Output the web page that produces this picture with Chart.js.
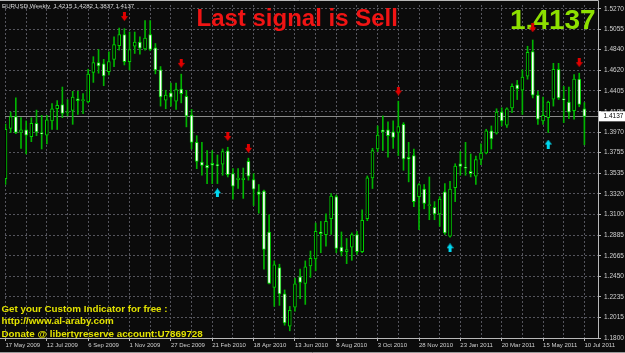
<!DOCTYPE html>
<html>
<head>
<meta charset="utf-8">
<script src="https://cdn.jsdelivr.net/npm/chart.js@4.4.0/dist/chart.umd.min.js"></script>
<style>
  html, body { margin: 0; padding: 0; background: #0b0b0b; }
  canvas { display: block; }
</style>
</head>
<body>
<canvas id="myChart" width="625" height="353"></canvas>
<script>
// EURUSD weekly, one bar per week starting 17 May 2009
const opens = [1.3480,1.4009,1.4134,1.3967,1.3995,1.3922,1.4064,1.3960,1.3939,1.4089,
  1.4217,1.4262,1.4172,1.4199,1.4321,1.4303,1.4290,1.4599,1.4703,1.4690,
  1.4609,1.4738,1.4883,1.4998,1.4714,1.4876,1.4920,1.4849,1.5000,1.4860,
  1.4627,1.4308,1.4384,1.4297,1.4425,1.4349,1.4151,1.3863,1.3654,1.3620,
  1.3642,1.3625,1.3633,1.3773,1.3533,1.3470,1.3470,1.3662,1.3470,1.3342,
  1.3349,1.2917,1.2334,1.2543,1.2265,1.1925,1.2126,1.2446,1.2376,1.2560,
  1.2633,1.2918,1.2890,1.3057,1.3290,1.2758,1.2709,1.2758,1.2891,1.2709,
  1.3057,1.3488,1.3793,1.3992,1.3995,1.3974,1.3967,1.4053,1.3705,1.3724,
  1.3290,1.3370,1.3195,1.3178,1.3109,1.3342,1.2873,1.3384,1.3637,1.3600,
  1.3557,1.3505,1.3682,1.3751,1.3985,1.3960,1.4182,1.4043,1.4227,1.4470,
  1.4412,1.4561,1.4821,1.4360,1.4089,1.4123,1.4318,1.4634,1.4320,1.4287,
  1.4196,1.4529,1.4215];
const highs = [1.4056,1.4182,1.4331,1.4123,1.4089,1.4123,1.4203,1.4147,1.4147,1.4272,
  1.4303,1.4446,1.4314,1.4401,1.4401,1.4376,1.4634,1.4766,1.4842,1.4738,
  1.4818,1.4975,1.5068,1.5061,1.5026,1.5026,1.4975,1.5147,1.5147,1.4905,
  1.4662,1.4412,1.4488,1.4488,1.4582,1.4412,1.4210,1.3933,1.3863,1.3776,
  1.3776,1.3730,1.3793,1.3811,1.3585,1.3585,1.3592,1.3696,1.3533,1.3418,
  1.3359,1.3099,1.2613,1.2578,1.2307,1.2133,1.2432,1.2526,1.2613,1.2717,
  1.3012,1.3029,1.3109,1.3324,1.3307,1.2918,1.2849,1.2908,1.2925,1.3151,
  1.3508,1.3800,1.4036,1.4141,1.4078,1.4089,1.4297,1.4071,1.3863,1.3793,
  1.3428,1.3418,1.3498,1.3238,1.3290,1.3428,1.3453,1.3637,1.3766,1.3863,
  1.3741,1.3717,1.3846,1.4001,1.4036,1.4217,1.4227,1.4227,1.4481,1.4516,
  1.4627,1.4876,1.4942,1.4401,1.4339,1.4297,1.4696,1.4696,1.4453,1.4446,
  1.4578,1.4592,1.4282];
const lows = [1.3418,1.3967,1.3955,1.3800,1.3741,1.3870,1.3933,1.3793,1.3846,1.3998,
  1.3998,1.4123,1.4141,1.4053,1.4157,1.4165,1.4279,1.4495,1.4592,1.4460,
  1.4574,1.4662,1.4835,1.4679,1.4627,1.4800,1.4793,1.4835,1.4828,1.4585,
  1.4245,1.4217,1.4245,1.4210,1.4279,1.4026,1.3793,1.3585,1.3516,1.3428,
  1.3428,1.3428,1.3516,1.3498,1.3265,1.3377,1.3272,1.3464,1.3196,1.3116,
  1.2526,1.2370,1.2133,1.2144,1.1935,1.1876,1.2084,1.2214,1.2154,1.2439,
  1.2508,1.2699,1.2769,1.2891,1.2699,1.2665,1.2584,1.2619,1.2682,1.2699,
  1.3037,1.3376,1.3766,1.3776,1.3706,1.3800,1.3724,1.3568,1.3446,1.3186,
  1.2943,1.3162,1.3047,1.3047,1.2977,1.2891,1.2863,1.3238,1.3516,1.3516,
  1.3498,1.3418,1.3627,1.3741,1.3793,1.3949,1.4037,1.4019,1.4175,1.4314,
  1.4157,1.4529,1.4331,1.4053,1.4053,1.3967,1.4245,1.4314,1.4071,1.4113,
  1.4106,1.4238,1.3837];
const closes = [1.4001,1.4134,1.3967,1.3995,1.3939,1.4064,1.3974,1.3952,1.4099,1.4217,
  1.4252,1.4168,1.4182,1.4339,1.4303,1.4311,1.4582,1.4703,1.4668,1.4564,
  1.4714,1.4894,1.4998,1.4714,1.4842,1.4920,1.4857,1.4961,1.4842,1.4627,
  1.4342,1.4360,1.4339,1.4419,1.4376,1.4141,1.3863,1.3662,1.3620,1.3592,
  1.3621,1.3618,1.3766,1.3522,1.3401,1.3485,1.3485,1.3505,1.3370,1.3314,
  1.2734,1.2376,1.2571,1.2265,1.1959,1.2092,1.2370,1.2387,1.2550,1.2641,
  1.2925,1.2901,1.3029,1.3297,1.2745,1.2709,1.2733,1.2891,1.2709,1.3040,
  1.3488,1.3776,1.3939,1.3975,1.3933,1.3915,1.4029,1.3689,1.3685,1.3238,
  1.3418,1.3220,1.3205,1.3109,1.3266,1.2908,1.3370,1.3613,1.3609,1.3590,
  1.3533,1.3682,1.3751,1.3985,1.3898,1.4182,1.4089,1.4217,1.4453,1.4425,
  1.4550,1.4811,1.4359,1.4106,1.4147,1.4287,1.4634,1.4332,1.4310,1.4182,
  1.4529,1.4262,1.4137];

// date labels, one every 8 bars
const dateLabels = ["17 May 2009", "12 Jul 2009", "6 Sep 2009", "1 Nov 2009", "27 Dec 2009",
  "21 Feb 2010", "18 Apr 2010", "13 Jun 2010", "8 Aug 2010", "3 Oct 2010",
  "28 Nov 2010", "23 Jan 2011", "20 Mar 2011", "15 May 2011", "10 Jul 2011"];
const priceTicks = [1.5270, 1.5055, 1.4840, 1.4620, 1.4405, 1.4185, 1.3970, 1.3755, 1.3535,
  1.3320, 1.3100, 1.2885, 1.2665, 1.2450, 1.2235, 1.2015, 1.1800];

// signal arrows (bar index, price level)
const sellBars = [23, 34, 43, 47, 76, 102, 111];
const sellLevels = [1.5189, 1.4696, 1.3925, 1.3800, 1.4404, 1.5071, 1.4703];
const buyBars = [41, 86, 105];
const buyLevels = [1.3331, 1.2751, 1.3845];

const last = closes.length - 1;
const font = '"Liberation Sans", Arial, sans-serif';

function makeArrow(color, down) {
  const c = document.createElement("canvas");
  c.width = 7;
  c.height = 9;
  const g = c.getContext("2d");
  g.fillStyle = color;
  if (!down) {
    g.translate(0, 9);
    g.scale(1, -1);
  }
  g.fillRect(2, 0, 3, 5);
  g.beginPath();
  g.moveTo(0, 4);
  g.lineTo(7, 4);
  g.lineTo(3.5, 9);
  g.closePath();
  g.fill();
  return c;
}

const gridWeeks = [];
for (let k = 0; k <= last; k += 4) gridWeeks.push(k);

const overlay = {
  id: "overlay",
  beforeDraw(chart) {
    const ctx = chart.ctx;
    ctx.save();
    ctx.fillStyle = "#0b0b0b";
    ctx.fillRect(0, 0, chart.width, chart.height);
    ctx.restore();
  },
  beforeDatasetsDraw(chart) {
    const ctx = chart.ctx;
    const a = chart.chartArea;
    const y = chart.scales.y;
    ctx.save();
    // bid line
    const by = Math.round(y.getPixelForValue(closes[last])) + 0.5;
    ctx.strokeStyle = "#8a8a8a";
    ctx.lineWidth = 1;
    ctx.beginPath();
    ctx.moveTo(a.left, by);
    ctx.lineTo(a.right, by);
    ctx.stroke();

    ctx.textBaseline = "alphabetic";
    ctx.textAlign = "left";
    ctx.fillStyle = "#d8d8d8";
    ctx.font = "6.2px " + font;
    ctx.fillText("EURUSD,Weekly  " + [opens[last], highs[last], lows[last], closes[last]]
      .map(v => v.toFixed(4)).join(" "), 2, 7.8);

    ctx.fillStyle = "#f01414";
    ctx.font = "bold 24px " + font;
    ctx.fillText("Last signal is Sell", 196.5, 25.5);

    ctx.fillStyle = "#8ee000";
    ctx.font = "bold 28px " + font;
    ctx.fillText(closes[last].toFixed(4), 510, 28.5);

    ctx.fillStyle = "#e2e200";
    ctx.font = "bold 9.8px " + font;
    ctx.fillText("Get your Custom Indicator for free :", 1.5, 311.5);
    ctx.fillText("http://www.al-araby.com", 1.5, 324);
    ctx.fillText("Donate @ libertyreserve account:U7869728", 1.5, 336.5);
    ctx.restore();
  },
  afterDraw(chart) {
    const ctx = chart.ctx;
    const a = chart.chartArea;
    const y = chart.scales.y;
    ctx.save();
    ctx.strokeStyle = "#b8b8b8";
    ctx.lineWidth = 1;
    ctx.beginPath();
    ctx.moveTo(0, 0.5);
    ctx.lineTo(a.right + 0.5, 0.5);
    ctx.lineTo(a.right + 0.5, a.bottom + 0.5);
    ctx.lineTo(0, a.bottom + 0.5);
    ctx.stroke();
    ctx.strokeStyle = "#9a9a9a";
    ctx.beginPath();
    ctx.moveTo(0, 352.5);
    ctx.lineTo(chart.width, 352.5);
    ctx.stroke();

    // current price box on the axis
    const py = y.getPixelForValue(closes[last]);
    ctx.fillStyle = "#ffffff";
    ctx.fillRect(a.right + 1, py - 5, 26, 10);
    ctx.fillStyle = "#000000";
    ctx.font = "6.5px " + font;
    ctx.textBaseline = "middle";
    ctx.fillText(closes[last].toFixed(4), a.right + 5.5, py);
    ctx.restore();
  }
};

new Chart(document.getElementById("myChart"), {
  type: "bar",
  data: {
    datasets: [
      {
        label: "wicks",
        data: lows.map((l, i) => ({ x: i, y: [l, highs[i]] })),
        backgroundColor: "#00b400",
        barThickness: 1,
        grouped: false,
        order: 3,
      },
      {
        label: "bodies",
        data: opens.map((o, i) => ({ x: i, y: [o, closes[i]] })),
        backgroundColor: opens.map((o, i) => (closes[i] < o ? "#ffffff" : "#000000")),
        borderColor: "#00d200",
        borderWidth: 1,
        borderSkipped: false,
        barThickness: 3,
        minBarLength: 1,
        grouped: false,
        order: 2,
      },
      {
        type: "scatter",
        label: "sell",
        data: sellBars.map((b, k) => ({ x: b, y: sellLevels[k] })),
        pointStyle: makeArrow("#e00000", true),
        pointRadius: 3,
        order: 1,
      },
      {
        type: "scatter",
        label: "buy",
        data: buyBars.map((b, k) => ({ x: b, y: buyLevels[k] })),
        pointStyle: makeArrow("#00d8f0", false),
        pointRadius: 3,
        order: 1,
      },
    ],
  },
  options: {
    responsive: false,
    animation: false,
    devicePixelRatio: 1,
    layout: { padding: { top: 1, left: 0, right: 0, bottom: 0 } },
    plugins: {
      legend: { display: false },
      tooltip: { enabled: false },
    },
    scales: {
      x: {
        type: "linear",
        offset: false,
        bounds: "data",
        min: -0.096,
        max: 114.63,
        grid: {
          offset: false,
          color: "#55555d",
          tickLength: 3,
          tickColor: (c) => (c.tick && c.tick.value % 8 === 0 ? "#b8b8b8" : "rgba(0,0,0,0)"),
        },
        border: { display: false, dash: [2, 2] },
        ticks: {
          autoSkip: false,
          maxRotation: 0,
          align: "start",
          padding: 1,
          color: "#d0d0d0",
          font: { family: font, size: 6 },
          callback: (v) => (v % 8 === 0 ? dateLabels[v / 8] : ""),
        },
        afterBuildTicks: (s) => {
          s.ticks = gridWeeks.map((v) => ({ value: v }));
        },
        afterFit: (s) => {
          s.height = 15;
          s.paddingLeft = 0;
          s.paddingRight = 0;
        },
      },
      y: {
        type: "linear",
        position: "right",
        bounds: "data",
        min: 1.18,
        max: 1.5311,
        grid: {
          color: "#55555d",
          tickLength: 3,
          tickColor: "#b8b8b8",
        },
        border: { display: false, dash: [2, 2] },
        ticks: {
          padding: 3,
          color: "#d0d0d0",
          font: { family: font, size: 6.5 },
          callback: (v) => v.toFixed(4),
        },
        afterBuildTicks: (s) => {
          s.ticks = priceTicks.map((v) => ({ value: v }));
        },
        afterFit: (s) => {
          s.width = 27;
          s.paddingTop = 0;
          s.paddingBottom = 0;
        },
      },
    },
  },
  plugins: [overlay],
});
</script>
</body>
</html>
